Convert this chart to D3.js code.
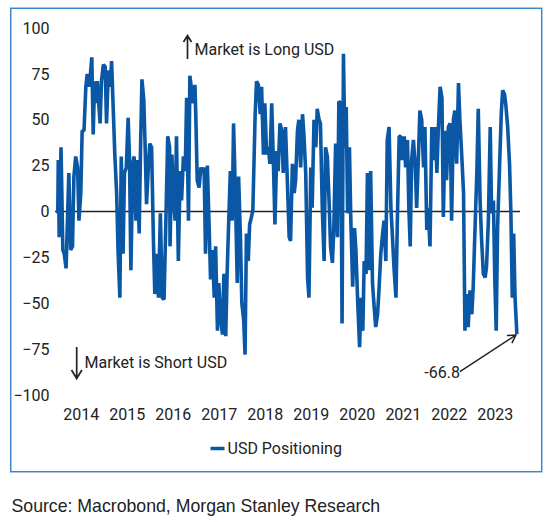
<!DOCTYPE html>
<html>
<head>
<meta charset="utf-8">
<script src="https://cdn.jsdelivr.net/npm/d3@7"></script>
<style>
  body { margin: 0; background: #fff; }
  svg text { font-family: Roboto, "Noto Sans", sans-serif; fill: #222; }
</style>
</head>
<body>
<div class="main"></div>
<script>
// USD positioning as [decimal year, value]
const usdPositioning = [
  [2014.00,-1],[2014.01,28],[2014.03,-14],[2014.07,35],[2014.11,-21],[2014.14,-23],[2014.18,-31],[2014.21,-5],
  [2014.24,21],[2014.28,-21],[2014.32,-19],[2014.35,19],[2014.39,30],[2014.43,24],[2014.46,-5],[2014.50,10],
  [2014.53,44],[2014.57,44],[2014.61,68],[2014.64,75],[2014.68,68],[2014.71,75],[2014.74,84],[2014.77,42],
  [2014.80,71],[2014.83,59],[2014.86,71],[2014.89,59],[2014.92,48],[2014.95,71],[2014.99,80],[2015.03,79],
  [2015.06,48],[2015.10,77],[2015.14,68],[2015.17,82],[2015.21,53],[2015.24,31],[2015.28,10],[2015.31,-21],
  [2015.35,-47],[2015.38,30],[2015.42,-23],[2015.45,21],[2015.49,24],[2015.53,51],[2015.56,28],[2015.59,-32],
  [2015.63,26],[2015.66,30],[2015.70,-5],[2015.73,28],[2015.77,-12],[2015.80,35],[2015.83,72],[2015.87,61],
  [2015.90,35],[2015.93,4],[2015.97,24],[2016.00,37],[2016.04,35],[2016.08,-16],[2016.11,-45],[2016.15,-23],
  [2016.19,-47],[2016.23,-1],[2016.27,-47],[2016.31,-48],[2016.35,-5],[2016.39,41],[2016.43,35],
  [2016.44,-19],[2016.48,31],[2016.51,10],[2016.55,-5],[2016.58,41],[2016.62,-27],[2016.66,22],[2016.69,6],
  [2016.73,30],[2016.77,22],[2016.80,62],[2016.84,-5],[2016.87,74],[2016.90,68],[2016.94,59],[2016.98,69],
  [2017.00,51],[2017.03,17],[2017.07,13],[2017.11,24],[2017.14,21],[2017.18,24],[2017.21,-23],[2017.25,25],
  [2017.29,-9],[2017.32,-37],[2017.36,-21],[2017.40,-47],[2017.43,-19],[2017.47,-65],[2017.50,-39],[2017.54,-59],
  [2017.58,-67],[2017.61,-34],[2017.65,-68],[2017.68,-34],[2017.71,-9],[2017.75,22],[2017.79,-5],[2017.82,48],
  [2017.86,10],[2017.90,-39],[2017.93,19],[2017.97,-14],[2018.00,-50],[2018.04,-59],[2018.07,-78],[2018.10,-12],
  [2018.14,-27],[2018.17,-7],[2018.21,-3],[2018.24,1],[2018.29,53],[2018.32,71],[2018.36,69],[2018.40,53],
  [2018.43,68],[2018.47,31],[2018.50,59],[2018.54,31],[2018.58,35],[2018.61,26],[2018.65,59],[2018.69,24],
  [2018.72,-7],[2018.76,33],[2018.79,22],[2018.83,48],[2018.87,44],[2018.90,21],
  [2018.95,46],[2018.99,17],[2019.03,-14],[2019.06,-16],[2019.10,26],[2019.14,10],[2019.17,17],[2019.21,44],
  [2019.24,50],[2019.28,24],[2019.32,53],[2019.35,42],[2019.39,21],[2019.43,-36],[2019.46,-47],[2019.50,24],
  [2019.53,2],[2019.57,50],[2019.61,35],[2019.64,56],[2019.68,50],[2019.71,48],[2019.75,2],[2019.79,-27],
  [2019.82,35],[2019.86,30],[2019.90,4],[2019.93,-19],[2019.97,-28],[2020.00,-10],[2020.04,37],[2020.08,-14],
  [2020.11,60],[2020.15,59],[2020.18,-61],[2020.21,86],[2020.24,35],[2020.27,57],[2020.30,-1],[2020.34,35],
  [2020.37,-5],[2020.41,-41],[2020.45,-9],[2020.48,-21],[2020.52,-50],[2020.56,-74],[2020.59,-47],[2020.63,-65],
  [2020.66,-27],[2020.70,-34],[2020.73,21],[2020.77,-32],[2020.80,22],[2020.84,-39],[2020.87,-50],[2020.91,-63],
  [2020.95,-56],[2020.98,-43],[2021.02,-23],[2021.06,-12],[2021.09,-5],[2021.13,-27],[2021.16,39],[2021.20,46],
  [2021.24,2],[2021.27,-12],[2021.31,-32],[2021.35,-47],[2021.38,-5],[2021.42,41],
  [2021.45,41],[2021.49,28],[2021.53,41],[2021.56,24],[2021.60,39],[2021.63,2],[2021.66,-19],[2021.69,28],
  [2021.73,39],[2021.77,24],[2021.80,2],[2021.84,31],[2021.87,55],[2021.91,50],[2021.95,24],[2021.98,46],
  [2022.02,-10],[2022.05,2],[2022.09,-19],[2022.13,46],[2022.16,28],[2022.20,46],[2022.24,21],[2022.27,44],
  [2022.31,68],[2022.35,62],[2022.38,-3],[2022.42,44],[2022.45,17],[2022.49,46],[2022.53,48],[2022.56,-5],
  [2022.60,50],[2022.63,55],[2022.67,26],[2022.71,70],[2022.74,50],[2022.78,31],[2022.82,10],[2022.85,-65],
  [2022.89,-45],[2022.92,-63],[2022.96,-43],[2023.00,-56],[2023.03,-41],[2023.07,-9],[2023.11,22],[2023.14,56],
  [2023.18,6],[2023.21,-14],[2023.25,-34],[2023.29,-36],[2023.32,-30],[2023.36,-5],[2023.40,46],[2023.43,-1],
  [2023.47,6],[2023.50,-37],[2023.53,-65],[2023.56,-9],[2023.60,22],[2023.64,53],[2023.67,66],[2023.71,64],
  [2023.74,58],[2023.78,46],[2023.82,26],[2023.85,-1],[2023.88,-47],[2023.91,-12],[2023.94,-47],[2023.98,-66.8]
];

const yTicks = [100, 75, 50, 25, 0, -25, -50, -75, -100];
const yearLabels = [2014, 2015, 2016, 2017, 2018, 2019, 2020, 2021, 2022, 2023];
const seriesName = "USD Positioning";
const lastLabel = "-66.8";

const blue = "#0a58a5";
const fontSize = "16px";

// decimal year -> Date
function yearToDate(v) {
  const y = Math.floor(v);
  const s = new Date(y, 0, 1), e = new Date(y + 1, 0, 1);
  return new Date(+s + (v - y) * (e - s));
}

const svg = d3.select(".main").append("svg")
    .attr("width", 554)
    .attr("height", 522);

// outer frame
svg.append("rect")
    .attr("x", 10.7).attr("y", 8.3)
    .attr("width", 531).attr("height", 463.4)
    .attr("fill", "none")
    .attr("stroke", "#3f86c8")
    .attr("stroke-width", 1.5);

const x = d3.scaleTime()
    .domain([new Date(2014, 0, 1), new Date(2024, 0, 1)])
    .range([57.8, 517.8]);

const y = d3.scaleLinear()
    .domain([-100, 100])
    .range([395, 28]);

// y labels
const yAxis = d3.axisLeft(y).tickValues(yTicks).tickSize(0).tickPadding(0);
svg.append("g")
    .attr("transform", "translate(49.5,0)")
    .call(yAxis)
    .call(g => g.select(".domain").remove())
    .selectAll("text")
    .style("font-size", fontSize)
    .attr("fill", "#222");

// year labels, centered mid-year
const xAxis = d3.axisBottom(x)
    .tickValues(yearLabels.map(yr => yearToDate(yr + 0.5)))
    .tickFormat(d => d.getFullYear())
    .tickSize(0).tickPadding(0);
svg.append("g")
    .attr("transform", "translate(0,408.5)")
    .call(xAxis)
    .call(g => g.select(".domain").remove())
    .selectAll("text")
    .style("font-size", fontSize)
    .attr("fill", "#222");

// zero line
svg.append("line")
    .attr("x1", 55).attr("x2", 520)
    .attr("y1", y(0)).attr("y2", y(0))
    .attr("stroke", "#222")
    .attr("stroke-width", 1.3);

// series
const line = d3.line()
    .x(d => x(yearToDate(d[0])))
    .y(d => y(d[1]));

svg.append("path")
    .datum(usdPositioning)
    .attr("d", line)
    .attr("fill", "none")
    .attr("stroke", blue)
    .attr("stroke-width", 3.6)
    .attr("stroke-linejoin", "bevel");

// "long" annotation
svg.append("path")
    .attr("d", "M187.5,59 V36 M183.5,42 L187.5,35.5 L191.5,42")
    .attr("fill", "none").attr("stroke", "#222").attr("stroke-width", 1.7);
svg.append("text")
    .attr("x", 194.5).attr("y", 49).attr("dy", "0.35em")
    .style("font-size", fontSize)
    .text("Market is Long USD");

// "short" annotation
svg.append("path")
    .attr("d", "M76.7,347 V377.5 M71.5,370 L76.7,378.5 L81.9,370")
    .attr("fill", "none").attr("stroke", "#222").attr("stroke-width", 1.7);
svg.append("text")
    .attr("x", 84.5).attr("y", 362.5).attr("dy", "0.35em")
    .style("font-size", fontSize)
    .text("Market is Short USD");

// last value call-out
const last = usdPositioning[usdPositioning.length - 1];
const lx = x(yearToDate(last[0])), ly = y(last[1]);
svg.append("path")
    .attr("d", `M${lx - 57},${ly + 37.5} L${lx - 1},${ly + 1}`)
    .attr("fill", "none").attr("stroke", "#222").attr("stroke-width", 1.5);
svg.append("path")
    .attr("d", `M${lx - 10},${ly + 1.5} L${lx - 1},${ly + 1} L${lx - 5},${ly + 9}`)
    .attr("fill", "none").attr("stroke", "#222").attr("stroke-width", 1.5);
svg.append("text")
    .attr("x", lx - 57).attr("y", ly + 38).attr("dy", "0.35em")
    .attr("text-anchor", "end")
    .style("font-size", fontSize)
    .text(lastLabel);

// legend
svg.append("line")
    .attr("x1", 210.5).attr("x2", 224.5)
    .attr("y1", 448.5).attr("y2", 448.5)
    .attr("stroke", blue).attr("stroke-width", 3.5);
svg.append("text")
    .attr("x", 227.5).attr("y", 448.5).attr("dy", "0.35em")
    .style("font-size", fontSize)
    .text(seriesName);

// source
svg.append("text")
    .attr("x", 11.5).attr("y", 511.5)
    .style("font-family", "'Liberation Sans', Arial, sans-serif")
    .style("font-size", "17.7px")
    .attr("fill", "#000")
    .text("Source: Macrobond, Morgan Stanley Research");
</script>
</body>
</html>
